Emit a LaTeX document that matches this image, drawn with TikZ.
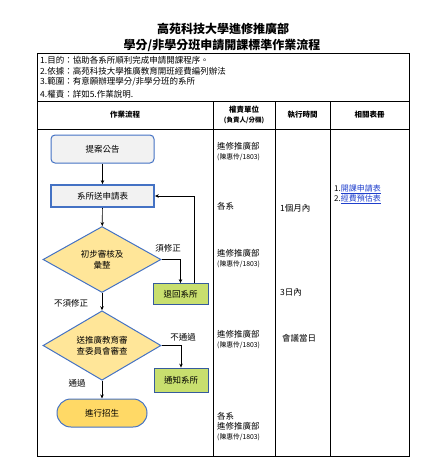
\documentclass[tikz,border=0pt]{standalone}
\usepackage{fontspec}
\setmainfont{Noto Sans CJK TC}
\usetikzlibrary{positioning,arrows.meta,shapes.geometric}
\definecolor{flowblue}{HTML}{4472C4}
\definecolor{boxgray}{HTML}{F2F2F2}
\definecolor{checkyellow}{HTML}{FFE699}
\definecolor{retgreen}{HTML}{C8DF6E}
\definecolor{enrollgold}{HTML}{FFD966}
\definecolor{linkblue}{HTML}{1F3FCC}
\tikzset{
    every node/.style={font=\fontsize{8.5}{10.5}\selectfont,inner sep=1pt},
    headtext/.style={font=\fontsize{7.5}{10}\selectfont\bfseries,align=center},
    infotext/.style={anchor=west,font=\fontsize{8.5}{10}\selectfont},
    celltext/.style={anchor=west,align=left,font=\fontsize{8.5}{10}\selectfont},
    startbox/.style={rectangle,rounded corners=4pt,draw=flowblue,line width=1pt,fill=boxgray,minimum width=103pt,minimum height=28pt},
    procbox/.style={rectangle,draw=flowblue,line width=1.8pt,fill=boxgray,minimum width=103pt,minimum height=22pt},
    decision/.style={diamond,draw=flowblue,line width=1pt,fill=checkyellow,minimum width=118pt,minimum height=66pt,inner sep=0pt,align=center},
    retbox/.style={rectangle,draw=flowblue!80!black,line width=0.8pt,fill=retgreen,minimum width=55pt,minimum height=21pt},
    endbox/.style={rectangle,rounded corners=13.9pt,draw=flowblue,line width=1pt,fill=enrollgold,minimum width=90pt,minimum height=28pt},
    flow/.style={draw,-{Stealth[length=4pt,width=3.5pt]},line width=0.7pt},
    grid/.style={line width=0.9pt}
}
\newcommand{\ext}[1]{{\fontsize{6.8}{9}\selectfont #1}}
\newcommand{\formlink}[1]{\textcolor{linkblue}{\underline{#1}}}

\begin{document}
\begin{tikzpicture}[x=1pt,y=-1pt]
    \useasboundingbox (0,0) rectangle (444,474);
    % titles
    \node[font=\fontsize{12}{14}\selectfont\bfseries] (title1) at (223,29) {高苑科技大學進修推廣部};
    \node[font=\fontsize{12}{14}\selectfont\bfseries] (title2) at (222,45) {學分/非學分班申請開課標準作業流程};
    % table frame
    \draw[grid] (37,53) rectangle (409,456);
    \draw[grid] (37,101) -- (409,101);
    \draw[grid] (37,129) -- (409,129);
    \foreach \x in {213,275,330} {
        \draw[grid] (\x,101) -- (\x,456);
    }
    % info rows
    \node[infotext] (info1) at (39,60) {1.目的：協助各系所順利完成申請開課程序。};
    \node[infotext] (info2) at (39,71) {2.依據：高苑科技大學推廣教育開班經費編列辦法};
    \node[infotext] (info3) at (39,82) {3.範圍：有意願辦理學分/非學分班的系所};
    \node[infotext] (info4) at (39,94) {4.權責：詳如5.作業說明.};
    % header row
    \node[headtext] (hflow) at (125,115) {作業流程};
    \node[headtext] (hunit) at (244,115) {權責單位\\{\fontsize{6.5}{9}\selectfont(負責人/分機)}};
    \node[headtext] (htime) at (302.5,115) {執行時間};
    \node[headtext] (hform) at (369.5,115) {相關表冊};
    % flow nodes
    \node[startbox] (announce) at (102.5,149) {提案公告};
    \node[procbox] (submit) at (102.5,196) {系所送申請表};
    \node[decision] (check) at (102,259.5) {初步審核及\\彙整};
    \node[retbox] (ret) at (180.5,294) {退回系所};
    \node[decision] (review) at (102,345.5) {送推廣教育審\\查委員會審查};
    \node[retbox,minimum width=54pt,minimum height=24pt] (notify) at (181,380) {通知系所};
    \node[endbox] (enroll) at (102,413) {進行招生};
    % connectors
    \draw[flow] (announce) -- (submit);
    \draw[flow] (submit) -- (check);
    \draw[flow] (check.east) -| (ret.north);
    \draw[flow] ([xshift=13.5pt]ret.north) |- (submit.east);
    \draw[flow] (check) -- (review);
    \draw[flow] (review.east) -| (notify.north);
    \draw[flow] (review) -- (enroll);
    % branch labels
    \node (lfix) at (168,248) {須修正};
    \node (lnofix) at (71,303) {不須修正};
    \node (lfail) at (183,337) {不通過};
    \node (lpass) at (77,383) {通過};
    % responsible units
    \node[celltext] (unit1) at (216,152) {進修推廣部\\\ext{(陳惠伶/1803)}};
    \node[celltext] (unit2) at (216,206) {各系};
    \node[celltext] (unit3) at (216,258.5) {進修推廣部\\\ext{(陳惠伶/1803)}};
    \node[celltext] (unit4) at (216,339.5) {進修推廣部\\\ext{(陳惠伶/1803)}};
    \node[celltext] (unit5) at (216,427) {各系\\進修推廣部\\\ext{(陳惠伶/1803)}};
    % times
    \node[celltext] (time1) at (279,208) {1個月內};
    \node[celltext] (time2) at (279,292) {3日內};
    \node[celltext] (time3) at (281,338) {會議當日};
    % forms
    \node[celltext,font=\fontsize{8}{10}\selectfont] (forms) at (333,194) {1.\formlink{開課申請表}\\2.\formlink{經費預估表}};
\end{tikzpicture}
\end{document}
